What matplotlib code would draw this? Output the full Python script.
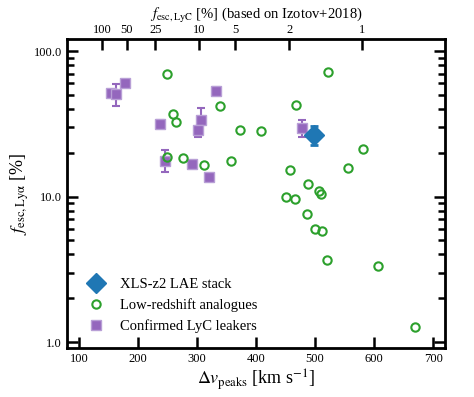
import numpy as np
import matplotlib
matplotlib.use("Agg")
import matplotlib.pyplot as plt
from matplotlib.ticker import FormatStrFormatter

plt.rcParams['font.family'] = 'serif'
plt.rcParams['font.serif'] = ['Liberation Serif', 'DejaVu Serif']
plt.rcParams['mathtext.fontset'] = 'stix'

# XLS-z2 stack
stack_dv = [498]
stack_f = [26.3]
stack_err_lo = [3.7]
stack_err_hi = [4.3]

# low-redshift analogues
lowz_dv = [250, 339, 259, 264, 373, 408, 249, 277, 312, 358,
           522, 467, 582, 556, 458, 488, 506, 510, 450, 466,
           487, 500, 512, 521, 607, 669]
lowz_f = [69.2, 41.6, 36.9, 32.3, 28.6, 28.3, 18.6, 18.3, 16.6, 17.5,
          72.1, 42.7, 21.2, 15.6, 15.1, 12.1, 11.0, 10.4, 9.9, 9.6,
          7.6, 5.97, 5.8, 3.64, 3.35, 1.27]

# confirmed LyC leakers
leak_dv = [155, 163, 179, 333, 238, 307, 302, 246, 291, 320, 478]
leak_f = [51.3, 50.5, 60.1, 53.2, 31.5, 33.6, 28.7, 17.6, 16.7, 13.7, 29.5]
leak_err_lo = [0, 8.9, 0, 3.0, 2.0, 0, 3.2, 2.9, 0, 0, 4.0]
leak_err_hi = [0, 9.2, 0, 3.0, 2.0, 7.3, 0, 3.3, 0, 0, 4.1]

# top axis ticks: f_esc,LyC (fraction)
top_fesc = [1.0, 0.5, 0.25, 0.1, 0.05, 0.02, 0.01]
top_labels = ['100', '50', '25', '10', '5', '2', '1']


def izotov_dv(f):
    # invert fesc = 3.23e4/v^2 - 1.05e2/v + 0.095 (Izotov+2018)
    a, b, c = 3.23e4, -1.05e2, 0.095 - f
    u = (-b + np.sqrt(b**2 - 4 * a * c)) / (2 * a)
    return 1.0 / u


fig = plt.figure(figsize=(4.74, 3.97), dpi=100)
ax = fig.add_axes([0.1414, 0.1234, 0.7974, 0.7784])

purple = '#9467bd'
ax.errorbar(leak_dv, leak_f, yerr=[leak_err_lo, leak_err_hi], fmt='none',
            ecolor=purple, elinewidth=1.5, capsize=3, capthick=1.5, zorder=2)
ax.plot(leak_dv, leak_f, 's', color=purple, ms=7, mec='#b89fd6', mew=1,
        zorder=3, label='Confirmed LyC leakers')
ax.plot(lowz_dv, lowz_f, 'o', mfc='none', mec='#2ca02c', ms=6, mew=1.5,
        zorder=4, label='Low-redshift analogues')
ax.errorbar(stack_dv, stack_f, yerr=[stack_err_lo, stack_err_hi], fmt='none',
            ecolor='#1f77b4', elinewidth=2, capsize=3, capthick=2, zorder=5)
ax.plot(stack_dv, stack_f, 'D', color='#1f77b4', ms=10, zorder=6,
        label='XLS-z2 LAE stack')

ax.set_yscale('log')
ax.set_xlim(80, 720)
ax.set_ylim(0.91, 121)
ax.yaxis.set_major_formatter(FormatStrFormatter('%.1f'))
ax.tick_params(which='both', direction='in', right=True, top=False,
               labelsize=9, width=1.8)
ax.tick_params(which='major', length=8)
ax.tick_params(which='minor', length=5)
ax.set_xticks([100, 200, 300, 400, 500, 600, 700])
for s in ax.spines.values():
    s.set_linewidth(2)

ax.set_xlabel(r'$\Delta v_{\rm peaks}$ [km s$^{-1}$]', fontsize=13, labelpad=2)
ax.set_ylabel(r'$f_{\rm esc,Ly\alpha}$ [%]', fontsize=13, labelpad=2)

h, l = ax.get_legend_handles_labels()
order = [2, 1, 0]
ax.legend([h[i] for i in order], [l[i] for i in order], loc='lower left',
          frameon=False, fontsize=10.5, handletextpad=0.6, borderaxespad=0.6)

ax2 = ax.twiny()
ax2.set_xlim(ax.get_xlim())
ax2.set_xticks([izotov_dv(f) for f in top_fesc])
ax2.set_xticklabels(top_labels)
ax2.tick_params(direction='in', length=8, width=1.8, labelsize=9, pad=2)
ax2.set_xlabel(r'$f_{\rm esc,LyC}$ [%] (based on Izotov+2018)', fontsize=10.5,
               labelpad=4)

fig.savefig('out.png', dpi=100)
